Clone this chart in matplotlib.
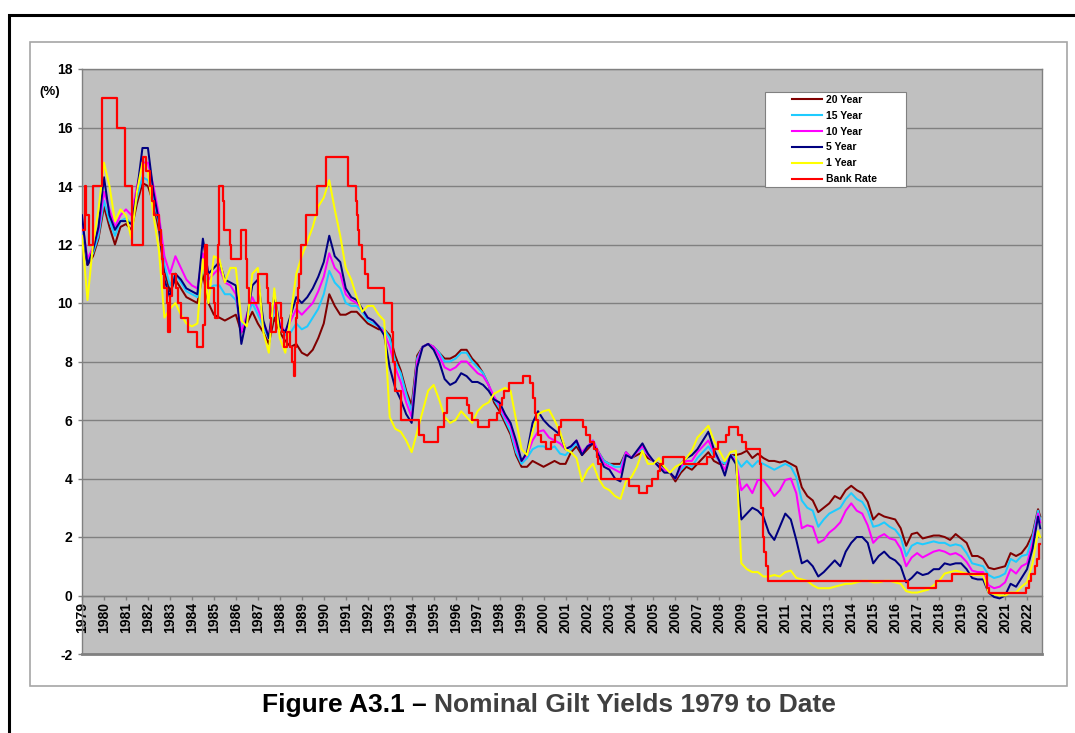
import numpy as np
import matplotlib
matplotlib.use('Agg')
import matplotlib.pyplot as plt
from matplotlib.patches import Rectangle
from matplotlib.lines import Line2D

plt.rcParams['font.family'] = ['Liberation Sans', 'DejaVu Sans']
plt.rcParams['axes.unicode_minus'] = False

# quarterly points, the last one of 2022 sits at the end of the data (~2022.6)
YEARS = list(np.arange(1979.0, 2022.51, 0.25)) + [2022.6]

# 20 Year
Y20 = [12.4, 11.3, 11.6, 12.2,  13.3, 12.6, 12.0, 12.6,  12.7, 12.5, 13.4, 14.1,  14.0, 13.4, 12.5, 11.1,
       10.4, 10.8, 10.5, 10.2,  10.1, 10.0, 11.0, 10.0,  9.6, 9.5, 9.4, 9.5,  9.6, 9.0, 9.3, 9.7,
       9.3, 9.0, 8.6, 9.5,  9.0, 8.7, 8.5, 8.6,  8.3, 8.2, 8.4, 8.8,  9.3, 10.3, 9.9, 9.6,
       9.6, 9.7, 9.7, 9.5,  9.3, 9.2, 9.1, 9.1,  8.9, 8.2, 7.7, 7.0,  6.5, 8.2, 8.5, 8.6,
       8.5, 8.3, 8.1, 8.1,  8.2, 8.4, 8.4, 8.1,  7.9, 7.6, 7.2, 6.6,  6.3, 5.9, 5.5, 4.8,
       4.4, 4.4, 4.6, 4.5,  4.4, 4.5, 4.6, 4.5,  4.5, 4.9, 5.1, 4.8,  5.0, 5.2, 4.9, 4.6,
       4.5, 4.5, 4.5, 4.9,  4.7, 4.8, 4.9, 4.7,  4.6, 4.5, 4.35, 4.2,  3.9, 4.2, 4.4, 4.3,
       4.5, 4.7, 4.9, 4.6,  4.5, 4.5, 4.8, 4.8,  4.85, 4.95, 4.7, 4.85,  4.7, 4.6, 4.6, 4.55,
       4.6, 4.5, 4.4, 3.7,  3.4, 3.25, 2.85, 3.0,  3.15, 3.4, 3.3, 3.6,  3.75, 3.6, 3.5, 3.2,
       2.6, 2.8, 2.7, 2.65,  2.6, 2.3, 1.7, 2.1,  2.15, 1.95, 2.0, 2.05,  2.05, 2.0, 1.9, 2.1,
       1.95, 1.8, 1.35, 1.35,  1.25, 0.95, 0.9, 0.95,  1.0, 1.45, 1.35, 1.45,  1.7, 2.1, 2.95, 2.7]

# 15 Year
Y15 = [12.6, 11.4, 11.7, 12.3,  13.5, 12.8, 12.3, 12.8,  12.9, 12.7, 13.6, 14.3,  14.2, 13.6, 12.7, 11.3,
       10.6, 11.0, 10.7, 10.4,  10.3, 10.2, 11.2, 10.5,  10.6, 10.6, 10.3, 10.3,  10.1, 9.2, 9.5, 10.0,
       9.6, 9.2, 8.8, 9.8,  9.2, 8.9, 9.0, 9.3,  9.1, 9.2, 9.5, 9.8,  10.3, 11.1, 10.7, 10.5,
       10.0, 9.9, 9.9, 9.7,  9.4, 9.3, 9.2, 9.1,  8.8, 8.0, 7.6, 6.9,  6.3, 8.1, 8.5, 8.6,
       8.5, 8.3, 8.0, 8.0,  8.1, 8.3, 8.3, 8.0,  7.8, 7.6, 7.2, 6.7,  6.4, 6.0, 5.6, 4.9,
       4.5, 4.7, 5.0, 5.1,  5.1, 5.0, 5.1, 4.85,  4.8, 5.0, 5.2, 4.9,  5.1, 5.3, 4.9, 4.6,
       4.5, 4.4, 4.4, 4.9,  4.7, 4.9, 5.0, 4.8,  4.6, 4.45, 4.3, 4.2,  4.0, 4.3, 4.5, 4.4,
       4.7, 4.9, 5.1, 4.8,  4.6, 4.5, 4.8, 4.7,  4.4, 4.6, 4.4, 4.6,  4.5, 4.4, 4.3, 4.4,
       4.5, 4.4, 4.05, 3.25,  3.0, 2.9, 2.35, 2.6,  2.8, 2.9, 3.0, 3.3,  3.5, 3.3, 3.2, 2.9,
       2.35, 2.4, 2.5, 2.35,  2.25, 2.0, 1.35, 1.7,  1.8, 1.75, 1.8, 1.85,  1.8, 1.8, 1.7, 1.75,
       1.7, 1.45, 1.1, 1.05,  1.0, 0.7, 0.6, 0.65,  0.75, 1.25, 1.15, 1.35,  1.4, 2.0, 2.9, 2.6]

# 10 Year
Y10 = [12.8, 11.5, 11.9, 12.5,  13.8, 13.2, 12.6, 13.0,  13.2, 13.0, 14.0, 14.8,  14.8, 14.0, 13.0, 11.6,
       11.0, 11.6, 11.2, 10.8,  10.6, 10.5, 11.7, 10.8,  11.0, 11.2, 10.7, 10.6,  10.3, 9.0, 9.6, 10.2,
       9.8, 9.3, 8.9, 10.0,  9.3, 9.0, 9.4, 9.8,  9.6, 9.8, 10.0, 10.4,  10.9, 11.7, 11.2, 11.0,
       10.3, 10.1, 10.0, 9.8,  9.5, 9.4, 9.2, 9.0,  8.5, 7.8, 7.3, 6.6,  6.1, 8.0, 8.5, 8.6,
       8.5, 8.2, 7.8, 7.7,  7.8, 8.0, 8.0, 7.8,  7.6, 7.5, 7.2, 6.8,  6.5, 6.1, 5.8, 5.1,
       4.6, 4.8, 5.3, 5.6,  5.65, 5.4, 5.3, 5.2,  5.0, 5.1, 5.3, 4.9,  5.1, 5.3, 4.9, 4.5,
       4.4, 4.3, 4.2, 4.9,  4.7, 4.9, 5.1, 4.8,  4.6, 4.4, 4.3, 4.2,  4.0, 4.4, 4.6, 4.6,
       4.9, 5.1, 5.3, 4.9,  4.6, 4.3, 4.8, 4.6,  3.6, 3.8, 3.5, 3.95,  3.95, 3.7, 3.4, 3.6,
       3.95, 4.0, 3.5, 2.3,  2.4, 2.35, 1.8, 1.9,  2.15, 2.3, 2.5, 2.9,  3.15, 2.9, 2.8, 2.4,
       1.8, 2.0, 2.1, 1.95,  1.9, 1.6, 1.0, 1.3,  1.45, 1.3, 1.4, 1.5,  1.55, 1.5, 1.4, 1.45,
       1.35, 1.15, 0.85, 0.8,  0.8, 0.35, 0.25, 0.3,  0.45, 0.9, 0.75, 1.0,  1.1, 1.8, 2.8, 2.5]

# 5 Year
Y5 = [13.0, 11.3, 11.8, 12.6,  14.3, 13.0, 12.5, 12.8,  12.8, 12.7, 13.8, 15.3,  15.3, 13.8, 12.8, 10.8,
      10.2, 11.0, 10.8, 10.5,  10.4, 10.3, 12.2, 11.0,  11.2, 11.4, 10.8, 10.7,  10.6, 8.6, 9.5, 10.6,
      10.8, 9.4, 8.8, 10.3,  9.2, 9.0, 9.6, 10.2,  10.0, 10.2, 10.5, 10.9,  11.4, 12.3, 11.6, 11.4,
      10.5, 10.2, 10.1, 9.8,  9.5, 9.4, 9.2, 8.9,  7.8, 7.1, 6.7, 6.2,  5.9, 7.8, 8.5, 8.6,
      8.4, 8.0, 7.4, 7.2,  7.3, 7.6, 7.5, 7.3,  7.3, 7.2, 7.0, 6.7,  6.6, 6.2, 5.9, 5.3,
      4.6, 4.9, 5.9, 6.3,  6.0, 5.8, 5.65, 5.5,  5.0, 5.1, 5.3, 4.8,  5.1, 5.2, 4.8, 4.4,
      4.3, 4.0, 3.9, 4.8,  4.7, 4.95, 5.2, 4.85,  4.6, 4.4, 4.2, 4.2,  4.0, 4.5, 4.7, 4.8,
      5.0, 5.3, 5.6, 5.0,  4.6, 4.1, 4.8, 4.5,  2.6, 2.8, 3.0, 2.9,  2.7, 2.15, 1.9, 2.35,
      2.8, 2.6, 1.9, 1.1,  1.2, 1.0, 0.65, 0.8,  1.0, 1.2, 1.0, 1.5,  1.8, 2.0, 2.0, 1.8,
      1.1, 1.35, 1.5, 1.3,  1.2, 1.0, 0.45, 0.6,  0.8, 0.7, 0.75, 0.9,  0.9, 1.1, 1.05, 1.1,
      1.1, 0.9, 0.6, 0.55,  0.55, 0.1, -0.05, -0.1,  0.0, 0.4, 0.3, 0.6,  0.9, 1.6, 2.7, 2.3]

# 1 Year
Y1 = [12.3, 10.1, 12.0, 13.2,  14.8, 14.0, 12.8, 13.2,  13.0, 12.2, 13.8, 14.8,  14.5, 13.0, 11.8, 9.5,
      9.8, 10.0, 9.6, 9.3,  9.2, 9.3, 11.5, 10.0,  11.6, 11.5, 10.7, 11.2,  11.2, 9.4, 9.2, 11.0,
      11.2, 9.0, 8.3, 10.5,  8.8, 8.3, 9.6, 11.0,  11.6, 12.1, 12.6, 13.3,  13.6, 14.2, 13.2, 12.3,
      11.2, 10.8, 10.2, 9.7,  9.9, 9.9, 9.6, 9.4,  6.1, 5.7, 5.6, 5.3,  4.9, 5.6, 6.3, 7.0,
      7.2, 6.7, 6.1, 5.9,  6.0, 6.3, 6.1, 5.9,  6.3, 6.5, 6.6, 6.9,  7.0, 7.1, 7.0, 6.0,
      5.0, 4.8, 5.6, 6.2,  6.3, 6.35, 6.0, 5.6,  5.0, 4.9, 4.7, 3.9,  4.3, 4.5, 4.0, 3.7,
      3.6, 3.4, 3.3, 3.9,  4.05, 4.4, 4.95, 4.5,  4.5, 4.7, 4.4, 4.2,  4.4, 4.5, 4.7, 4.95,
      5.4, 5.6, 5.8, 5.3,  4.95, 4.6, 4.9, 4.95,  1.1, 0.9, 0.8, 0.8,  0.65, 0.65, 0.7, 0.65,
      0.8, 0.85, 0.6, 0.55,  0.5, 0.35, 0.25, 0.25,  0.25, 0.3, 0.35, 0.4,  0.4, 0.45, 0.5, 0.5,
      0.45, 0.45, 0.5, 0.5,  0.45, 0.4, 0.15, 0.1,  0.1, 0.15, 0.2, 0.35,  0.5, 0.75, 0.8, 0.85,
      0.8, 0.75, 0.7, 0.7,  0.7, 0.1, 0.05, 0.0,  0.0, 0.1, 0.1, 0.3,  0.45, 1.1, 2.2, 2.0]

# Bank Rate: change dates as placed on the chart, and the new rate
BR_YEARS = [1979.0, 1979.12, 1979.2, 1979.3, 1979.5, 1979.9, 1980.6, 1980.95, 1981.27, 1981.78,
            1981.9, 1982.1, 1982.2, 1982.27, 1982.5, 1982.6, 1982.65, 1982.7, 1982.74, 1982.85,
            1982.93, 1983.0, 1983.1, 1983.27, 1983.35, 1983.52, 1983.83, 1984.25, 1984.5, 1984.6,
            1984.7, 1984.73, 1985.0, 1985.05, 1985.2, 1985.25, 1985.4, 1985.45, 1985.73, 1985.77,
            1986.25, 1986.45, 1986.5, 1986.53, 1986.62, 1987.0, 1987.42, 1987.45, 1987.55, 1987.6,
            1987.83, 1988.05, 1988.1, 1988.2, 1988.35, 1988.47, 1988.55, 1988.65, 1988.7, 1988.75,
            1988.78, 1988.82, 1988.88, 1988.95, 1989.2, 1989.7, 1990.1, 1991.1, 1991.45, 1991.5,
            1991.55, 1991.62, 1991.73, 1991.87, 1992.0, 1992.75, 1993.1, 1993.17, 1993.25, 1993.5,
            1994.35, 1994.55, 1995.2, 1995.45, 1995.6, 1996.5, 1996.6, 1996.75, 1997.0, 1997.5,
            1997.9, 1998.0, 1998.1, 1998.2, 1998.45, 1999.05, 1999.4, 1999.5, 1999.6, 1999.65,
            1999.75, 1999.9, 2000.1, 2000.35, 2000.5, 2000.7, 2000.8, 2001.8, 2001.95, 2002.1,
            2002.3, 2002.45, 2002.5, 2002.6, 2003.9, 2004.35, 2004.7, 2004.95, 2005.2, 2005.3,
            2005.45, 2006.4, 2007.45, 2007.75, 2007.95, 2008.3, 2008.45, 2008.85, 2009.05, 2009.2,
            2009.85, 2009.9, 2010.0, 2010.05, 2010.1, 2010.2, 2016.6, 2017.86, 2018.6, 2020.2,
            2020.25, 2021.97, 2022.1, 2022.2, 2022.35, 2022.45, 2022.55, 2022.6]
BR_RATES = [12.5, 14, 13, 12, 14, 17, 16, 14, 12, 15,
            14.5, 14, 13.5, 13, 12.5, 12, 11.5, 11, 10.5, 10,
            9, 10.25, 11, 10.5, 10, 9.5, 9, 8.5, 9.25, 12,
            11, 10.5, 10, 9.5, 12, 14, 13.5, 12.5, 12, 11.5,
            12.5, 11.5, 11, 10.5, 10, 11, 10.5, 10, 9.5, 9,
            10, 9.5, 9, 8.5, 9, 8.5, 8, 7.5, 8.5, 9.5,
            10, 10.5, 11, 12, 13, 14, 15, 14, 13.5, 13,
            12.5, 12, 11.5, 11, 10.5, 10, 9, 8, 7, 6,
            5.5, 5.25, 5.75, 6.25, 6.75, 6.5, 6.25, 6, 5.75, 6,
            6.25, 6.5, 6.75, 7, 7.25, 7.5, 7.25, 6.75, 6.25, 6,
            5.5, 5.25, 5, 5.25, 5.5, 5.75, 6, 5.75, 5.5, 5.25,
            5, 4.75, 4.5, 4, 3.75, 3.5, 3.75, 4, 4.25, 4.5,
            4.75, 4.5, 4.75, 5, 5.25, 5.5, 5.75, 5.5, 5.25, 5,
            4.5, 3, 2, 1.5, 1, 0.5, 0.25, 0.5, 0.75, 0.25,
            0.1, 0.25, 0.5, 0.75, 1.0, 1.25, 1.75, 1.75]

SERIES = [('20 Year', Y20, '#800000'),
          ('15 Year', Y15, '#1ECBFF'),
          ('10 Year', Y10, '#FF00FF'),
          ('5 Year', Y5, '#000080'),
          ('1 Year', Y1, '#FFFF00')]
BANK_COLOUR = '#FF0000'
GRID_GREY = '#808080'

W, H = 1075, 733
fig = plt.figure(figsize=(W / 100, H / 100), dpi=100)

# outer black frame and the chart-area border
fig.add_artist(Rectangle((9 / W, -0.05), 1.1, 1 - 15 / H + 0.05, transform=fig.transFigure,
                         fill=False, edgecolor='black', lw=2.2))
fig.add_artist(Rectangle((30 / W, 1 - 686 / H), 1037 / W, 644 / H, transform=fig.transFigure,
                         fill=False, edgecolor='#A6A6A6', lw=1.2))

ax = fig.add_axes([82 / W, 1 - 654 / H, 960 / W, 585 / H])
ax.set_facecolor('#C0C0C0')

for name, vals, col in SERIES:
    ax.plot(YEARS, vals, color=col, lw=1.45, zorder=3)
ax.plot(BR_YEARS, BR_RATES, color=BANK_COLOUR, lw=1.6, drawstyle='steps-post', zorder=4)

ax.set_ylim(-2, 18)
ax.set_yticks(range(-2, 19, 2))
ax.set_xlim(1979, 2022.68)
ax.set_xticks(range(1979, 2023))
ax.set_xticklabels([str(y) for y in range(1979, 2023)])
ax.yaxis.grid(True, color=GRID_GREY, lw=1)
ax.set_axisbelow(True)

ax.spines['bottom'].set_position(('data', 0))
for s in ax.spines.values():
    s.set_color(GRID_GREY)
    s.set_linewidth(1)
ax.axhline(-2, color=GRID_GREY, lw=2, clip_on=False, zorder=2)
ax.tick_params(axis='x', length=3, width=1, color=GRID_GREY, pad=2, labelrotation=90, labelsize=10)
ax.tick_params(axis='y', length=3, width=1, color=GRID_GREY, pad=4, labelsize=10)
for lab in ax.get_xticklabels() + ax.get_yticklabels():
    lab.set_fontweight('bold')

fig.text(50 / W, 1 - 92 / H, '(%)', ha='center', va='center', fontweight='bold', fontsize=9.5)

# legend: white box plus frameless legend on top
ax.add_patch(Rectangle(((765 - 82) / 960, (654 - 187) / 585), 141 / 960, 95 / 585,
                       transform=ax.transAxes, facecolor='white', edgecolor=GRID_GREY,
                       lw=0.8, zorder=10))
handles = [Line2D([], [], color=c, lw=1.5) for _, _, c in SERIES]
handles.append(Line2D([], [], color=BANK_COLOUR, lw=1.5))
labels = [n for n, _, _ in SERIES] + ['Bank Rate']
leg = ax.legend(handles, labels, loc='upper left', bbox_to_anchor=((792 - 82) / 960, (654 - 95) / 585),
                frameon=False, handlelength=2.9, handletextpad=0.35, borderpad=0, borderaxespad=0,
                labelspacing=0.56, prop={'weight': 'bold', 'size': 7.5})
leg.set_zorder(11)

# caption: black figure number, grey title
cap_y = 1 - 712 / H
t1 = fig.text(0, cap_y, 'Figure A3.1 \u2013 ', fontsize=19, fontweight='bold', color='black', va='baseline')
t2 = fig.text(0, cap_y, 'Nominal Gilt Yields 1979 to Date', fontsize=19, fontweight='bold',
              color='#404040', va='baseline')
fig.canvas.draw()
r = fig.canvas.get_renderer()
w1 = t1.get_window_extent(r).width
w2 = t2.get_window_extent(r).width
x0 = 549 - (w1 + w2) / 2
t1.set_x(x0 / W)
t2.set_x((x0 + w1) / W)

fig.savefig('out.png', dpi=100)
